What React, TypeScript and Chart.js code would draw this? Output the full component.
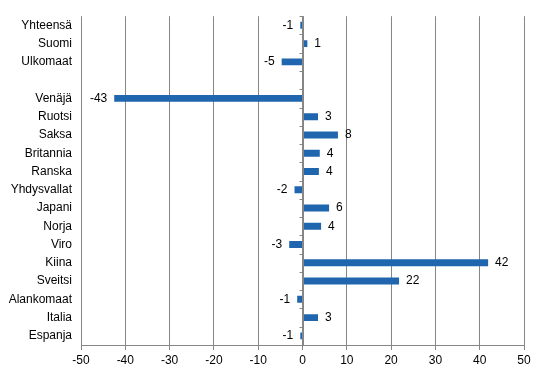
import React, { useEffect, useRef } from "react";
import { Chart, registerables } from "chart.js";

Chart.register(...registerables);

const categories = [
  "Yhteensä", "Suomi", "Ulkomaat", "", "Venäjä", "Ruotsi", "Saksa", "Britannia", "Ranska",
  "Yhdysvallat", "Japani", "Norja", "Viro", "Kiina", "Sveitsi", "Alankomaat", "Italia", "Espanja",
];
const values: (number | null)[] = [
  -0.5, 1.1, -4.7, null, -42.5, 3.5, 8.0, 3.9, 3.7, -1.8, 6.0, 4.2, -3.0, 41.9, 21.8, -1.2, 3.5, -0.5,
];
const valueLabels = [
  "-1", "1", "-5", "", "-43", "3", "8", "4", "4", "-2", "6", "4", "-3", "42", "22", "-1", "3", "-1",
];
const xTicks = { min: -50, max: 50, step: 10 };

const FONT = "'Liberation Sans', Arial, sans-serif";
const GRID = "#868686";
const BAR = "#1f66ae";

const labelPlugin = {
  id: "valueLabels",
  afterDatasetsDraw(chart: any) {
    const ctx = chart.ctx;
    const meta = chart.getDatasetMeta(0);
    ctx.save();
    ctx.font = `12px ${FONT}`;
    ctx.fillStyle = "#000";
    ctx.textBaseline = "middle";
    meta.data.forEach((el: any, i: number) => {
      const v = values[i];
      if (v === null || v === undefined) return;
      const t = valueLabels[i];
      if (v >= 0) {
        ctx.textAlign = "left";
        ctx.fillText(t, el.x + 7, el.y);
      } else {
        ctx.textAlign = "right";
        ctx.fillText(t, el.x - 7, el.y);
      }
    });
    ctx.restore();
  },
};

const zeroAxisPlugin = {
  id: "zeroAxisTicks",
  afterDatasetsDraw(chart: any) {
    const ctx = chart.ctx;
    const xs = chart.scales.x;
    const ys = chart.scales.y;
    const x0 = Math.round(xs.getPixelForValue(0)) + 0.5;
    const n = categories.length;
    const h = (ys.bottom - ys.top) / n;
    ctx.save();
    ctx.strokeStyle = GRID;
    ctx.lineWidth = 1;
    ctx.beginPath();
    ctx.moveTo(x0, ys.top);
    ctx.lineTo(x0, ys.bottom);
    for (let i = 0; i <= n; i++) {
      const y = Math.round(ys.top + i * h) + 0.5;
      ctx.moveTo(x0 - 4, y);
      ctx.lineTo(x0, y);
    }
    ctx.stroke();
    ctx.restore();
  },
};

export default function App() {
  const ref = useRef<HTMLCanvasElement>(null);
  useEffect(() => {
    if (!ref.current) return;
    const chart = new Chart(ref.current, {
      type: "bar",
      data: {
        labels: categories,
        datasets: [
          {
            data: values as any,
            backgroundColor: BAR,
            borderWidth: 0,
            categoryPercentage: 1,
            barPercentage: 0.38,
          },
        ],
      },
      options: {
        indexAxis: "y",
        animation: false,
        responsive: false,
        layout: { padding: { top: 13, right: 20, bottom: 0, left: 0 } },
        plugins: { legend: { display: false }, tooltip: { enabled: false } },
        scales: {
          x: {
            min: xTicks.min,
            max: xTicks.max,
            ticks: { stepSize: xTicks.step, color: "#000", font: { family: FONT, size: 12 }, padding: 3 },
            grid: { color: GRID, tickLength: 5 },
            border: { color: GRID },
            afterFit: (s: any) => { s.height = 29; },
          },
          y: {
            grid: { display: false, drawTicks: false },
            border: { display: false },
            ticks: { color: "#000", font: { family: FONT, size: 12 }, padding: 9, autoSkip: false },
            afterFit: (s: any) => { s.width = 81; },
          },
        },
      },
      plugins: [labelPlugin, zeroAxisPlugin],
    });
    return () => chart.destroy();
  }, []);
  return (
    <div style={{ position: "absolute", left: 0, top: 0, width: 544, height: 374, background: "#fff" }}>
      <canvas ref={ref} width={544} height={374} />
    </div>
  );
}
